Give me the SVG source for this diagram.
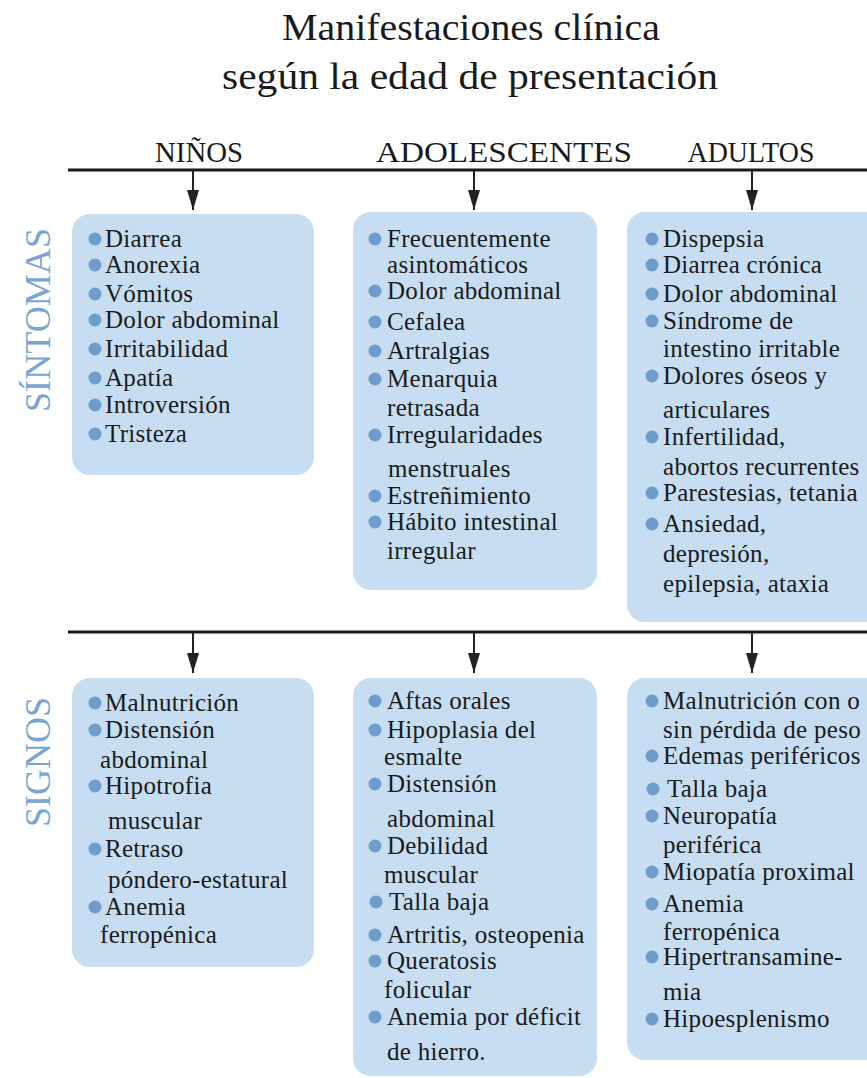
<svg xmlns="http://www.w3.org/2000/svg" width="867" height="1078" viewBox="0 0 867 1078">
<defs>
<marker id="ah" markerWidth="20" markerHeight="12" refX="20" refY="6" orient="auto" markerUnits="userSpaceOnUse" viewBox="0 0 20 12">
<path d="M0,0 L20,6 L0,12 Z" fill="#222"/>
</marker>
<style>
.title{font-family:"Liberation Serif",serif;font-size:38px;fill:#1a1a1a;text-anchor:middle}
.head{font-family:"Liberation Serif",serif;font-size:30px;fill:#1a1a1a;text-anchor:middle}
.side{font-family:"Liberation Serif",serif;font-size:35px;fill:#78a5d3;text-anchor:middle}
.box{fill:#c6ddf2}
.b{fill:#6e9dcb}
.t{font-family:"Liberation Serif",serif;font-size:25px;fill:#1a1a1a;letter-spacing:0.3px}
.rule{stroke:#1a1a1a;stroke-width:3}
.arr{stroke:#222;stroke-width:2;fill:none}
</style>
</defs>
<rect width="867" height="1078" fill="#fff"/>
<g id="title">
<text class="title" x="471" y="40" textLength="378" lengthAdjust="spacingAndGlyphs">Manifestaciones clínica</text>
<text class="title" x="470" y="89" textLength="496" lengthAdjust="spacingAndGlyphs">según la edad de presentación</text>
</g>
<g id="headers">
<text class="head" x="199" y="162" textLength="88" lengthAdjust="spacingAndGlyphs">NIÑOS</text>
<text class="head" x="504" y="162" textLength="256" lengthAdjust="spacingAndGlyphs">ADOLESCENTES</text>
<text class="head" x="751" y="162" textLength="127" lengthAdjust="spacingAndGlyphs">ADULTOS</text>
</g>
<g id="side-labels">
<text class="side" transform="translate(50,320) rotate(-90)" textLength="184" lengthAdjust="spacingAndGlyphs">SÍNTOMAS</text>
<text class="side" transform="translate(50,762) rotate(-90)" textLength="130" lengthAdjust="spacingAndGlyphs">SIGNOS</text>
</g>
<g id="connectors">
<line class="rule" x1="68" y1="170" x2="867" y2="170"/>
<line class="rule" x1="68" y1="632" x2="867" y2="632"/>
<line class="arr" x1="193" y1="171" x2="193" y2="210" marker-end="url(#ah)"/>
<line class="arr" x1="474" y1="171" x2="474" y2="210" marker-end="url(#ah)"/>
<line class="arr" x1="752" y1="171" x2="752" y2="210" marker-end="url(#ah)"/>
<line class="arr" x1="193" y1="633" x2="193" y2="673" marker-end="url(#ah)"/>
<line class="arr" x1="474" y1="633" x2="474" y2="673" marker-end="url(#ah)"/>
<line class="arr" x1="752" y1="633" x2="752" y2="673" marker-end="url(#ah)"/>
</g>
<g id="ninos-sintomas">
<rect class="box" x="72" y="214" width="242" height="261" rx="18"/>
<circle class="b" cx="95" cy="239" r="6.5"/><text class="t" x="105" y="247">Diarrea</text>
<circle class="b" cx="95" cy="265" r="6.5"/><text class="t" x="105" y="273">Anorexia</text>
<circle class="b" cx="95" cy="294" r="6.5"/><text class="t" x="105" y="302">Vómitos</text>
<circle class="b" cx="95" cy="320" r="6.5"/><text class="t" x="105" y="328">Dolor abdominal</text>
<circle class="b" cx="95" cy="349" r="6.5"/><text class="t" x="105" y="357">Irritabilidad</text>
<circle class="b" cx="95" cy="378" r="6.5"/><text class="t" x="105" y="386">Apatía</text>
<circle class="b" cx="95" cy="405" r="6.5"/><text class="t" x="105" y="413">Introversión</text>
<circle class="b" cx="95" cy="434" r="6.5"/><text class="t" x="105" y="442">Tristeza</text>
</g>
<g id="adolescentes-sintomas">
<rect class="box" x="353" y="212" width="244" height="378" rx="18"/>
<circle class="b" cx="375" cy="239" r="6.5"/><text class="t" x="387" y="247">Frecuentemente</text>
<text class="t" x="387" y="273">asintomáticos</text>
<circle class="b" cx="375" cy="291" r="6.5"/><text class="t" x="387" y="299">Dolor abdominal</text>
<circle class="b" cx="375" cy="322" r="6.5"/><text class="t" x="387" y="330">Cefalea</text>
<circle class="b" cx="375" cy="351" r="6.5"/><text class="t" x="387" y="359">Artralgias</text>
<circle class="b" cx="375" cy="379" r="6.5"/><text class="t" x="387" y="387">Menarquia</text>
<text class="t" x="387" y="416">retrasada</text>
<circle class="b" cx="375" cy="435" r="6.5"/><text class="t" x="387" y="443">Irregularidades</text>
<text class="t" x="388" y="477">menstruales</text>
<circle class="b" cx="375" cy="496" r="6.5"/><text class="t" x="387" y="504">Estreñimiento</text>
<circle class="b" cx="375" cy="522" r="6.5"/><text class="t" x="387" y="530">Hábito intestinal</text>
<text class="t" x="387" y="559">irregular</text>
</g>
<g id="adultos-sintomas">
<rect class="box" x="627" y="212" width="260" height="410" rx="18"/>
<circle class="b" cx="652" cy="239" r="6.5"/><text class="t" x="663" y="247">Dispepsia</text>
<circle class="b" cx="652" cy="265" r="6.5"/><text class="t" x="663" y="273">Diarrea crónica</text>
<circle class="b" cx="652" cy="294" r="6.5"/><text class="t" x="663" y="302">Dolor abdominal</text>
<circle class="b" cx="652" cy="321" r="6.5"/><text class="t" x="663" y="329">Síndrome de</text>
<text class="t" x="663" y="357">intestino  irritable</text>
<circle class="b" cx="652" cy="376" r="6.5"/><text class="t" x="663" y="384">Dolores óseos  y</text>
<text class="t" x="663" y="418">articulares</text>
<circle class="b" cx="652" cy="437" r="6.5"/><text class="t" x="663" y="445">Infertilidad,</text>
<text class="t" x="663" y="475">abortos  recurrentes</text>
<circle class="b" cx="652" cy="493" r="6.5"/><text class="t" x="663" y="501">Parestesias, tetania</text>
<circle class="b" cx="652" cy="524" r="6.5"/><text class="t" x="663" y="532">Ansiedad,</text>
<text class="t" x="663" y="562">depresión,</text>
<text class="t" x="663" y="592">epilepsia,  ataxia</text>
</g>
<g id="ninos-signos">
<rect class="box" x="72" y="678" width="242" height="289" rx="18"/>
<circle class="b" cx="95" cy="703" r="6.5"/><text class="t" x="105" y="711">Malnutrición</text>
<circle class="b" cx="95" cy="730" r="6.5"/><text class="t" x="105" y="738">Distensión</text>
<text class="t" x="100" y="768">abdominal</text>
<circle class="b" cx="95" cy="786" r="6.5"/><text class="t" x="105" y="794">Hipotrofia</text>
<text class="t" x="108" y="829">muscular</text>
<circle class="b" cx="95" cy="849" r="6.5"/><text class="t" x="105" y="857">Retraso</text>
<text class="t" x="108" y="888">póndero-estatural</text>
<circle class="b" cx="95" cy="907" r="6.5"/><text class="t" x="105" y="915">Anemia</text>
<text class="t" x="100" y="943">ferropénica</text>
</g>
<g id="adolescentes-signos">
<rect class="box" x="353" y="678" width="244" height="398" rx="18"/>
<circle class="b" cx="375" cy="701" r="6.5"/><text class="t" x="387" y="709">Aftas orales</text>
<circle class="b" cx="375" cy="730" r="6.5"/><text class="t" x="387" y="738">Hipoplasia del</text>
<text class="t" x="384" y="765">esmalte</text>
<circle class="b" cx="375" cy="784" r="6.5"/><text class="t" x="387" y="792">Distensión</text>
<text class="t" x="387" y="827">abdominal</text>
<circle class="b" cx="375" cy="846" r="6.5"/><text class="t" x="387" y="854">Debilidad</text>
<text class="t" x="384" y="883">muscular</text>
<circle class="b" cx="376" cy="902" r="6.5"/><text class="t" x="389" y="910">Talla baja</text>
<circle class="b" cx="375" cy="935" r="6.5"/><text class="t" x="387" y="943">Artritis, osteopenia</text>
<circle class="b" cx="375" cy="961" r="6.5"/><text class="t" x="387" y="969">Queratosis</text>
<text class="t" x="384" y="998">folicular</text>
<circle class="b" cx="375" cy="1017" r="6.5"/><text class="t" x="387" y="1025">Anemia por déficit</text>
<text class="t" x="387" y="1060">de hierro.</text>
</g>
<g id="adultos-signos">
<rect class="box" x="627" y="678" width="260" height="382" rx="18"/>
<circle class="b" cx="652" cy="701" r="6.5"/><text class="t" x="663" y="709">Malnutrición con o</text>
<text class="t" x="663" y="738">sin pérdida de peso</text>
<circle class="b" cx="652" cy="756" r="6.5"/><text class="t" x="663" y="764">Edemas periféricos</text>
<circle class="b" cx="653" cy="789" r="6.5"/><text class="t" x="667" y="797">Talla baja</text>
<circle class="b" cx="652" cy="816" r="6.5"/><text class="t" x="663" y="824">Neuropatía</text>
<text class="t" x="663" y="853">periférica</text>
<circle class="b" cx="652" cy="872" r="6.5"/><text class="t" x="663" y="880">Miopatía proximal</text>
<circle class="b" cx="652" cy="904" r="6.5"/><text class="t" x="663" y="912">Anemia</text>
<text class="t" x="663" y="940">ferropénica</text>
<circle class="b" cx="652" cy="957" r="6.5"/><text class="t" x="663" y="965">Hipertransamine-</text>
<text class="t" x="663" y="1000">mia</text>
<circle class="b" cx="652" cy="1019" r="6.5"/><text class="t" x="663" y="1027">Hipoesplenismo</text>
</g>
</svg>
